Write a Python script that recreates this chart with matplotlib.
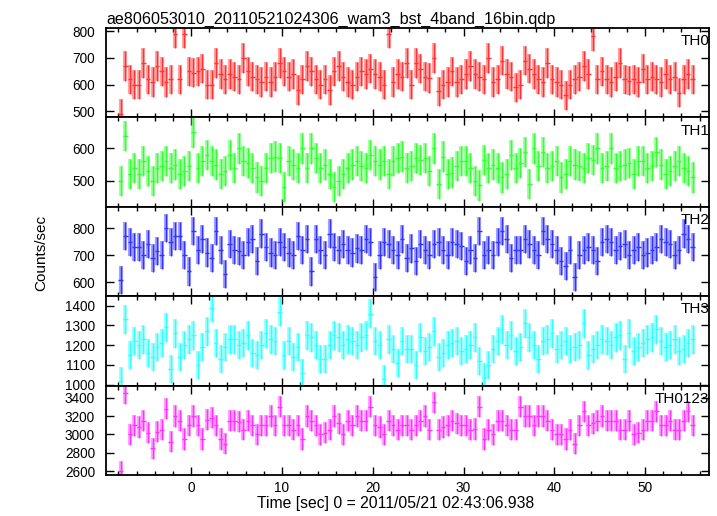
import numpy as np
import matplotlib
matplotlib.use("Agg")
import matplotlib.pyplot as plt
from matplotlib.ticker import MultipleLocator

plt.rcParams['font.family'] = ['Liberation Sans', 'DejaVu Sans']

# bin start and width (sec)
t_start = -7.75
bin_w = 0.5

th0 = [490, 670, 620, 600, 600, 680, 620, 610, 670, 650,
       610, 620, 790, 620, 790, 650, 645, 650, 660, 600,
       600, 680, 640, 620, 640, 630, 620, 700, 650, 630,
       620, 610, 630, 610, 630, 680, 650, 630, 640, 580,
       620, 670, 650, 620, 600, 620, 580, 650, 670, 630,
       610, 600, 630, 650, 640, 660, 640, 630, 600, 790,
       610, 640, 630, 680, 600, 680, 660, 630, 625, 700,
       575, 600, 610, 650, 610, 620, 640, 670, 640, 630,
       620, 700, 610, 620, 690, 640, 630, 590, 600, 690,
       660, 640, 620, 610, 680, 620, 610, 600, 560, 600,
       620, 630, 670, 640, 780, 620, 650, 620, 610, 630,
       680, 620, 615, 620, 610, 660, 620, 630, 620, 610,
       640, 620, 630, 570, 620, 640, 620]

th1 = [500, 640, 520, 540, 520, 560, 530, 500, 540, 545,
       560, 540, 550, 520, 530, 545, 650, 540, 560, 580,
       560, 550, 520, 530, 580, 540, 600, 560, 555, 540,
       510, 500, 540, 570, 575, 570, 480, 560, 550, 540,
       600, 540, 600, 570, 540, 550, 520, 480, 500, 520,
       540, 550, 560, 545, 540, 580, 560, 550, 560, 520,
       560, 570, 575, 540, 545, 570, 565, 570, 530, 600,
       490, 575, 520, 525, 545, 560, 560, 540, 500, 485,
       565, 540, 550, 540, 510, 520, 580, 540, 555, 590,
       490, 600, 545, 590, 540, 545, 560, 510, 520, 560,
       550, 545, 540, 570, 565, 600, 540, 545, 600, 540,
       545, 550, 555, 520, 560, 560, 540, 545, 590, 550,
       520, 530, 545, 560, 540, 530, 510]

th2 = [610, 770, 750, 730, 730, 700, 740, 690, 715, 700,
       800, 750, 770, 770, 700, 640, 790, 720, 760, 710,
       690, 790, 720, 630, 740, 720, 715, 700, 750, 760,
       680, 780, 730, 710, 700, 750, 730, 710, 700, 770,
       720, 760, 640, 760, 720, 700, 780, 730, 720, 740,
       720, 710, 725, 720, 760, 750, 620, 700, 750, 740,
       720, 700, 760, 690, 725, 680, 740, 720, 700, 740,
       750, 720, 700, 750, 740, 735, 680, 720, 690, 790,
       700, 720, 700, 750, 790, 760, 690, 720, 720, 760,
       740, 720, 700, 790, 760, 740, 720, 680, 660, 720,
       620, 700, 720, 730, 720, 680, 750, 760, 750, 720,
       735, 740, 700, 720, 730, 700, 710, 720, 730, 760,
       750, 740, 700, 720, 780, 760, 730]

th3 = [1020, 1330, 1150, 1220, 1200, 1230, 1160, 1140, 1190, 1210,
       1290, 1080, 1260, 1140, 1200, 1230, 1250, 1100, 1190, 1270,
       1390, 1210, 1130, 1190, 1230, 1230, 1200, 1210, 1250, 1160,
       1150, 1200, 1260, 1230, 1220, 1370, 1150, 1220, 1140, 1190,
       1060, 1250, 1240, 1200, 1130, 1130, 1200, 1250, 1240, 1200,
       1230, 1220, 1200, 1240, 1250, 1360, 1220, 1200, 1030, 1230,
       1180, 1110, 1220, 1180, 1180, 1100, 1240, 1170, 1190, 1270,
       1140, 1160, 1200, 1210, 1220, 1170, 1180, 1200, 1240, 1120,
       1040, 1100, 1180, 1220, 1280, 1200, 1250, 1170, 1190, 1310,
       1240, 1200, 1130, 1220, 1230, 1260, 1180, 1200, 1220, 1180,
       1190, 1200, 1310, 1150, 1180, 1200, 1230, 1220, 1200, 1240,
       1250, 1130, 1260, 1170, 1190, 1210, 1230, 1240, 1280, 1220,
       1190, 1200, 1230, 1170, 1180, 1210, 1230]

th0123 = [2600, 3450, 3000, 3100, 3080, 3150, 3020, 2850, 3030, 3050,
          3280, 2920, 3200, 3150, 2950, 3100, 3200, 3100, 2950, 3160,
          3180, 3100, 2950, 2900, 3150, 3150, 3140, 3050, 3150, 3100,
          3000, 3100, 3100, 3200, 3100, 3300, 3100, 3100, 3050, 3100,
          2950, 3200, 3150, 3100, 3000, 3020, 3050, 3200, 3120, 3000,
          3150, 3100, 3200, 3150, 3150, 3300, 3100, 3080, 3000, 3150,
          3100, 3050, 3100, 3100, 3050, 3100, 3150, 3200, 3050, 3350,
          3050, 3080, 3100, 3150, 3120, 3100, 3100, 3050, 3060, 3300,
          2950, 3050, 3000, 3150, 3150, 3100, 3050, 3050, 3300, 3200,
          3200, 3100, 3200, 3200, 3150, 3050, 3000, 3000, 2950, 3050,
          2900, 3100, 3250, 3100, 3120, 3150, 3200, 3150, 3150, 3150,
          3050, 3050, 3150, 3000, 3020, 3050, 3150, 3150, 3250, 3100,
          3100, 3150, 3050, 3050, 3150, 3250, 3100]

names = ['TH0', 'TH1', 'TH2', 'TH3', 'TH0123']
series = [th0, th1, th2, th3, th0123]
errs = [55, 47, 52, 72, 115]
colors = ['#ff3333', '#33ff33', '#3333ff', '#33ffff', '#ff33ff']
ylims = [(478, 812), (419, 697), (549, 879), (996, 1448), (2560, 3531)]
yticks = [[500, 600, 700, 800], [500, 600], [600, 700, 800],
          [1000, 1100, 1200, 1300, 1400], [2600, 2800, 3000, 3200, 3400]]

fig, axes = plt.subplots(5, 1, figsize=(7.17, 5.16), dpi=100, sharex=True)
fig.subplots_adjust(left=0.148, right=0.989, top=0.946, bottom=0.0795, hspace=0)

for ax, name, vals, e, c, yl, yt in zip(axes, names, series, errs, colors, ylims, yticks):
    vals = np.array(vals)
    t = t_start + bin_w * np.arange(len(vals))
    # light wide error bars + thin solid bars with bin-width lines
    ax.errorbar(t, vals, yerr=e, fmt='none', ecolor=c, elinewidth=3.0, alpha=0.45)
    ax.errorbar(t, vals, yerr=e, xerr=bin_w / 2, fmt='none', ecolor=c, elinewidth=1.0)
    ax.set_ylim(*yl)
    ax.set_yticks(yt)
    ax.set_xlim(-9.36, 57.05)
    ax.xaxis.set_major_locator(MultipleLocator(10))
    ax.xaxis.set_minor_locator(MultipleLocator(2))
    ax.tick_params(which='both', direction='in', top=True, right=True, labelsize=9.8)
    ax.tick_params(axis='y', pad=8)
    ax.tick_params(axis='x', pad=4)
    ax.tick_params(which='major', length=6, width=1)
    ax.tick_params(which='minor', length=3, width=1)
    for s in ax.spines.values():
        s.set_linewidth(1.3)
    ax.text(1.0, 0.93, name, transform=ax.transAxes, ha='right', va='top', fontsize=11)

axes[0].set_title('ae806053010_20110521024306_wam3_bst_4band_16bin.qdp', loc='left', fontsize=11.6, pad=3)
axes[-1].set_xlabel('Time [sec] 0 = 2011/05/21 02:43:06.938', fontsize=11.3, x=0.48, labelpad=1)
fig.text(0.057, 0.51, 'Counts/sec', rotation=90, ha='center', va='center', fontsize=11)

fig.savefig('out.png', dpi=100)
